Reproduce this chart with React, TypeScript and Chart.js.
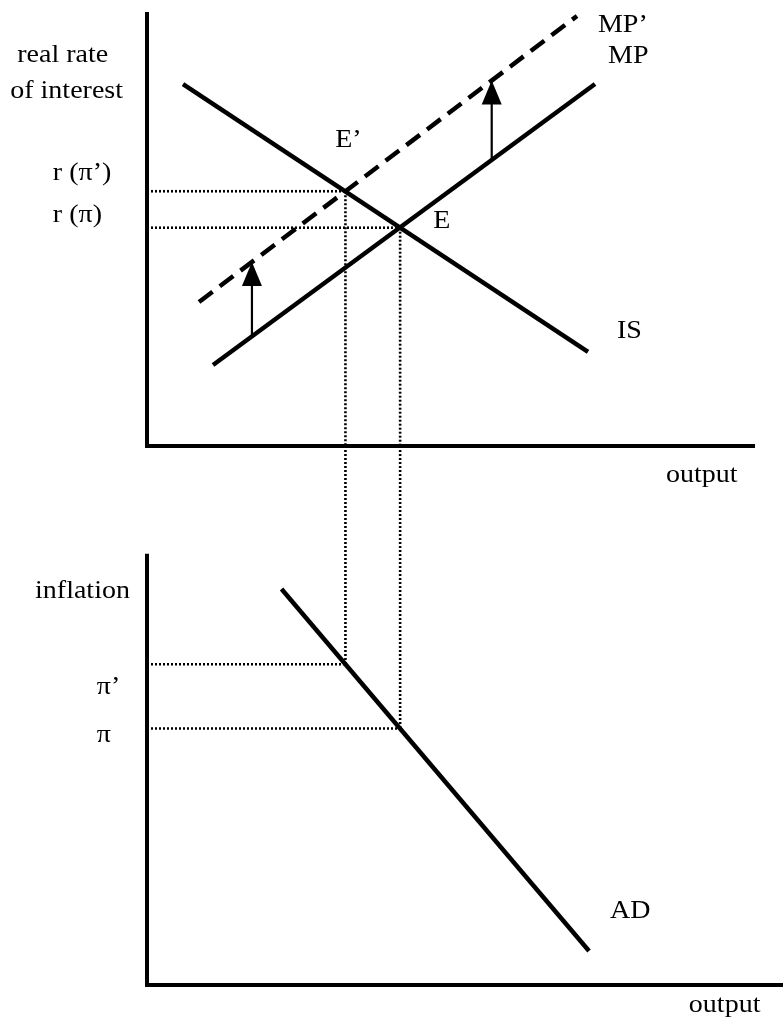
import React, { useEffect, useRef } from "react";
import { Chart, registerables } from "chart.js";

Chart.register(...registerables);

// ---------- DATA ----------
// Top panel: output (x) vs real rate of interest (y)
const isCurve = [
  { x: 5.66, y: 83.4 },
  { x: 69.34, y: 21.7 },
];
const mpCurve = [
  { x: 10.38, y: 18.66 },
  { x: 70.44, y: 83.41 },
];
const mpPrimeCurve = [
  { x: 8.18, y: 33.18 },
  { x: 67.61, y: 99.08 },
];
// equilibria E and E'
const outputE = 39.8;
const rateE = 50.3;
const outputEPrime = 31.2;
const rateEPrime = 58.7;

// shift arrows MP -> MP'
const arrowOutputs = [16.5, 54.2];
const arrowFrom = [25.3, 65.9];
const arrowTo = [42.4, 84.2];

// Bottom panel: output (x) vs inflation (y)
const adCurve = [
  { x: 21.15, y: 73.47 },
  { x: 69.5, y: 6.31 },
];
const inflationE = 47.6;
const inflationEPrime = 59.5;

// axis extents
const topAxisXEnd = 95.6;
const bottomAxisYEnd = 80;
const bottomAxisXEnd = 100;

// text labels (data units; panel = which y scale)
const textLabels = [
  { text: "real rate", panel: "yTop", x: -20.4, y: 88.4 },
  { text: "of interest", panel: "yTop", x: -21.5, y: 80.1 },
  { text: "r (\u03c0\u2019)", panel: "yTop", x: -14.8, y: 61.3 },
  { text: "r (\u03c0)", panel: "yTop", x: -14.8, y: 51.5 },
  { text: "E\u2019", panel: "yTop", x: 29.6, y: 69.0 },
  { text: "E", panel: "yTop", x: 45.0, y: 50.2 },
  { text: "MP\u2019", panel: "yTop", x: 70.9, y: 95.5 },
  { text: "MP", panel: "yTop", x: 72.5, y: 88.2 },
  { text: "IS", panel: "yTop", x: 73.9, y: 24.9 },
  { text: "output", panel: "yTop", x: 81.6, y: -8.3 },
  { text: "inflation", panel: "yBot", x: -17.6, y: 71.8 },
  { text: "\u03c0\u2019", panel: "yBot", x: -7.9, y: 54.0 },
  { text: "\u03c0", panel: "yBot", x: -7.9, y: 45.1 },
  { text: "AD", panel: "yBot", x: 72.8, y: 12.4 },
  { text: "output", panel: "yBot", x: 85.2, y: -5.0 },
];

// ---------- STYLE ----------
const INK = "#000000";
const FONT = '25px "Liberation Serif", "Times New Roman", serif';
const TEXT_STRETCH = 1.12;
const DOTS = [2, 2];

function solid(data: any[], yAxisID: string, width = 4, dash: number[] = []) {
  return {
    data,
    yAxisID,
    xAxisID: "x",
    borderColor: INK,
    backgroundColor: INK,
    borderWidth: width,
    borderDash: dash,
    borderCapStyle: "butt",
    pointRadius: 0,
    pointHoverRadius: 0,
    fill: false,
    tension: 0,
  };
}

const overlayPlugin = {
  id: "overlay",
  afterDatasetsDraw(chart: any) {
    const { ctx, scales } = chart;
    const x = scales.x;
    const yTop = scales.yTop;
    const yBot = scales.yBot;
    ctx.save();
    ctx.strokeStyle = INK;
    ctx.fillStyle = INK;
    ctx.lineWidth = 4;
    ctx.lineJoin = "miter";
    ctx.lineCap = "butt";
    // top axes
    ctx.beginPath();
    ctx.moveTo(x.getPixelForValue(0), yTop.getPixelForValue(100));
    ctx.lineTo(x.getPixelForValue(0), yTop.getPixelForValue(0));
    ctx.lineTo(x.getPixelForValue(topAxisXEnd), yTop.getPixelForValue(0));
    ctx.stroke();
    // bottom axes
    ctx.beginPath();
    ctx.moveTo(x.getPixelForValue(0), yBot.getPixelForValue(bottomAxisYEnd));
    ctx.lineTo(x.getPixelForValue(0), yBot.getPixelForValue(0));
    ctx.lineTo(x.getPixelForValue(bottomAxisXEnd), yBot.getPixelForValue(0));
    ctx.stroke();
    // arrowheads
    arrowOutputs.forEach((ox, i) => {
      const px = x.getPixelForValue(ox);
      const py = yTop.getPixelForValue(arrowTo[i]);
      ctx.beginPath();
      ctx.moveTo(px, py);
      ctx.lineTo(px - 10, py + 24);
      ctx.lineTo(px + 10, py + 24);
      ctx.closePath();
      ctx.fill();
    });
    ctx.restore();
  },
  afterDraw(chart: any) {
    const { ctx, scales } = chart;
    ctx.save();
    ctx.fillStyle = INK;
    ctx.font = FONT;
    ctx.textAlign = "left";
    ctx.textBaseline = "alphabetic";
    textLabels.forEach((l) => {
      const px = scales.x.getPixelForValue(l.x);
      const py = scales[l.panel].getPixelForValue(l.y);
      ctx.save();
      ctx.translate(px, py);
      ctx.scale(TEXT_STRETCH, 1);
      ctx.fillText(l.text, 0, 0);
      ctx.restore();
    });
    ctx.restore();
  },
};

export default function App() {
  const ref = useRef<HTMLCanvasElement | null>(null);

  useEffect(() => {
    if (!ref.current) return;
    const datasets: any[] = [
      // dotted guide lines, top panel
      solid([{ x: 0, y: rateEPrime }, { x: outputEPrime, y: rateEPrime }], "yTop", 2.6, DOTS),
      solid([{ x: 0, y: rateE }, { x: outputE, y: rateE }], "yTop", 2.6, DOTS),
      solid([{ x: outputEPrime, y: rateEPrime }, { x: outputEPrime, y: 0 }], "yTop", 2.6, DOTS),
      solid([{ x: outputE, y: rateE }, { x: outputE, y: 0 }], "yTop", 2.6, DOTS),
      // dotted guide lines, bottom panel
      solid([{ x: outputEPrime, y: 100 }, { x: outputEPrime, y: inflationEPrime }], "yBot", 2.6, DOTS),
      solid([{ x: outputE, y: 100 }, { x: outputE, y: inflationE }], "yBot", 2.6, DOTS),
      solid([{ x: 0, y: inflationEPrime }, { x: outputEPrime, y: inflationEPrime }], "yBot", 2.6, DOTS),
      solid([{ x: 0, y: inflationE }, { x: outputE, y: inflationE }], "yBot", 2.6, DOTS),
      // curves
      solid(isCurve, "yTop", 4.5),
      solid(mpCurve, "yTop", 4.5),
      solid(mpPrimeCurve, "yTop", 4.5, [17, 9]),
      solid(adCurve, "yBot", 4.5),
      // arrow shafts
      ...arrowOutputs.map((ox, i) =>
        solid([{ x: ox, y: arrowFrom[i] }, { x: ox, y: arrowTo[i] - 4 }], "yTop", 2.2)
      ),
    ];

    const chart = new Chart(ref.current, {
      type: "line",
      data: { datasets },
      options: {
        animation: false,
        responsive: false,
        devicePixelRatio: 1,
        events: [],
        layout: { padding: { left: 147, right: 0, top: 12, bottom: 36 } },
        plugins: {
          legend: { display: false },
          title: { display: false },
          tooltip: { enabled: false },
        },
        scales: {
          x: { type: "linear", min: 0, max: 100, display: false },
          yTop: {
            type: "linear",
            position: "left",
            min: 0,
            max: 100,
            display: false,
            stack: "panels",
            stackWeight: 434,
            weight: 2,
          },
          yBot: {
            type: "linear",
            position: "left",
            min: 0,
            max: 100,
            display: false,
            stack: "panels",
            stackWeight: 539,
            weight: 1,
          },
        },
      } as any,
      plugins: [overlayPlugin],
    });
    return () => chart.destroy();
  }, []);

  return (
    <div style={{ position: "absolute", left: 0, top: 0, width: 783, height: 1021, background: "#fff" }}>
      <canvas ref={ref} width={783} height={1021} style={{ width: 783, height: 1021, display: "block" }} />
    </div>
  );
}
